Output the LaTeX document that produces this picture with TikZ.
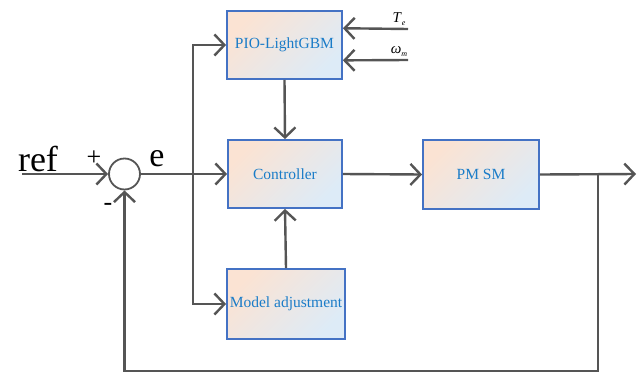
\documentclass[tikz,border=0pt]{standalone}
\usepackage{fontspec}
\setmainfont{Liberation Serif}
\usetikzlibrary{arrows.meta,calc}
\definecolor{linegray}{HTML}{555555}
\definecolor{boxborder}{HTML}{4472C4}
\definecolor{boxtext}{HTML}{1A7CC8}
\definecolor{peach}{HTML}{FBE3D3}
\definecolor{paleblue}{HTML}{DDEBF7}
\tikzset{
  blockbox/.style={draw=boxborder, line width=1.8pt, top color=peach, bottom color=paleblue, shading angle=45,
    text=boxtext, font=\fontsize{15.5}{17}\selectfont, inner sep=0pt},
  conn/.style={draw=linegray, line width=2.4pt},
  arr/.style={conn, -{Straight Barb[length=10pt,width=21pt,line width=2.4pt]}},
  bigtxt/.style={font=\fontsize{36}{38}\selectfont, inner sep=0pt},
  smalltxt/.style={font=\fontsize{15}{16}\selectfont, inner sep=0pt}
}
\begin{document}
\begin{tikzpicture}[x=1pt,y=-1pt]
\useasboundingbox (0,0) rectangle (642,375);
% blocks
\node[blockbox, minimum width=115pt, minimum height=68pt] (pio) at (284.5,45) {PIO-LightGBM};
\node[blockbox, minimum width=114pt, minimum height=68pt] (ctrl) at (285,174) {Controller};
\node[blockbox, minimum width=116pt, minimum height=69pt] (pmsm) at (481,174.5) {PM SM};
\node[blockbox, minimum width=118pt, minimum height=70pt] (madj) at (286,304) {Model adjustment};
% summing junction
\node[draw=linegray, line width=1.8pt, circle, minimum size=31pt, inner sep=0pt] (sum) at (124.5,174) {};
% coordinates
\coordinate (refstart) at (22,174);
\coordinate (split) at (193,174);
\coordinate (branch) at (598,174);
\coordinate (outend) at (636,174);
\coordinate (loopbot) at (598,371);
\coordinate (testart) at (408,29);
\coordinate (wmstart) at (408,60);
% labels
\node[bigtxt] (reflbl) at (38,159) {ref};
\node[font=\fontsize{26}{28}\selectfont, inner sep=0pt] (plus) at (94,158) {+};
\node[font=\fontsize{26}{28}\selectfont, inner sep=0pt] (minus) at (108,207) {-};
\node[font=\fontsize{34}{36}\selectfont, inner sep=0pt] (elbl) at (157,159) {e};
\node[smalltxt, anchor=base] (telbl) at (399,22) {\textit{T}\raisebox{-3pt}{\fontsize{8}{9}\selectfont\textit{e}}};
\node[smalltxt, anchor=base] (wmlbl) at (399,53) {\textit{ω}\raisebox{-3pt}{\fontsize{8}{9}\selectfont\textit{m}}};
% connectors
\draw[arr] (refstart) -- (sum.west);
\draw[arr] (sum.east) -- (ctrl.west);
\draw[arr] (split) |- (pio.west);
\draw[arr] (split) |- (madj.west);
\draw[arr] (pio.south) -- (ctrl.north);
\draw[arr] (madj.north) -- (ctrl.south);
\draw[arr] (ctrl.east) -- (pmsm.west);
\draw[arr] (pmsm.east) -- (outend);
\draw[arr] (branch) -- (loopbot) -| (sum.south);
\draw[arr] (testart) -- ($(pio.north east)!0.26!(pio.south east)$);
\draw[arr] (wmstart) -- ($(pio.north east)!0.72!(pio.south east)$);
\end{tikzpicture}
\end{document}
